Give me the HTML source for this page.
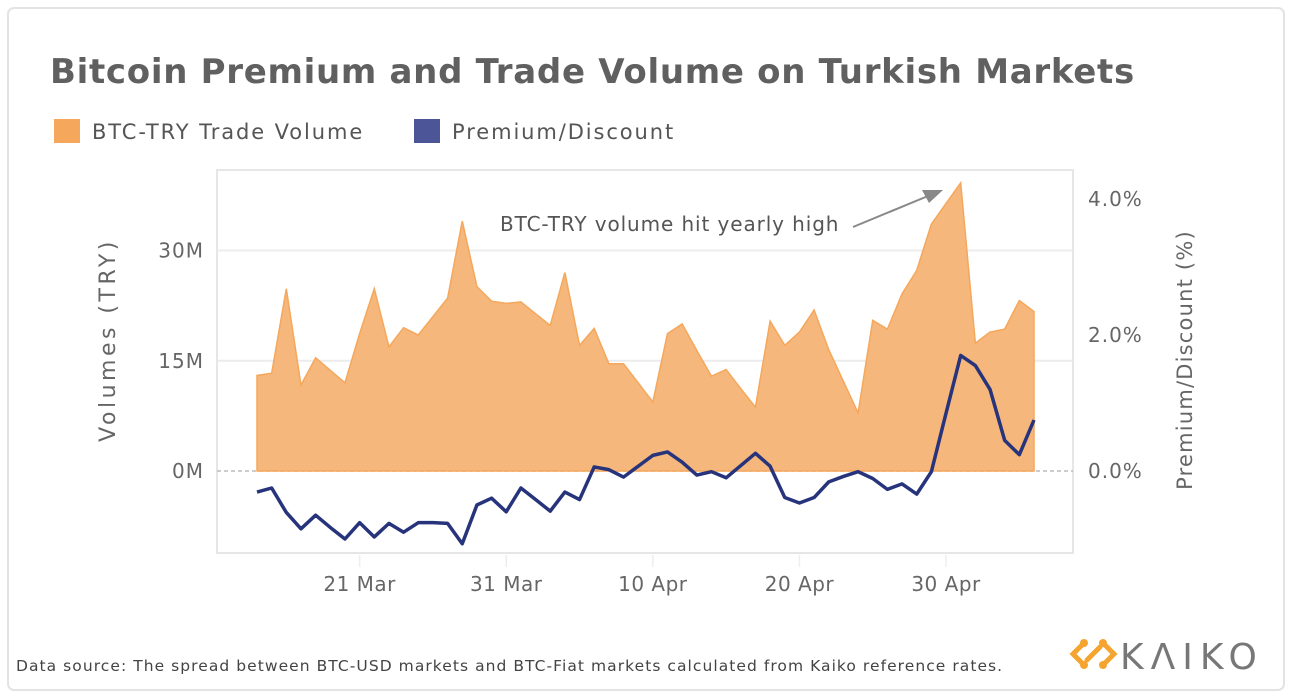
<!DOCTYPE html>
<html><head><meta charset="utf-8"><style>
body{margin:0;background:#fff;font-family:"Liberation Sans","DejaVu Sans",sans-serif;}
#wrap{position:relative;width:1292px;height:696px;overflow:hidden;}
svg text{font-family:"DejaVu Sans","Liberation Sans",sans-serif;}
</style></head><body>
<div id="wrap">
<svg id="chart" width="1292" height="696" xmlns="http://www.w3.org/2000/svg">
<rect x="8" y="8" width="1276" height="682" rx="6" fill="#fff" stroke="#e3e3e3" stroke-width="2"/>
<text x="50" y="83" font-size="34" font-weight="bold" fill="#606060" letter-spacing="0.7">Bitcoin Premium and Trade Volume on Turkish Markets</text>
<g>
<rect x="54" y="119" width="26" height="24" fill="#f5a75c"/>
<text x="92" y="139" font-size="21" fill="#555" letter-spacing="1.9">BTC-TRY Trade Volume</text>
<rect x="414" y="119" width="26" height="24" fill="#4b5597"/>
<text x="452" y="139" font-size="21" fill="#555" letter-spacing="1.9">Premium/Discount</text>
</g>
<g id="grid"></g>
<g id="marks"></g>
<g id="axes"></g>
<text x="500" y="231" font-size="20" fill="#555" letter-spacing="0.9">BTC-TRY volume hit yearly high</text>
<line x1="853" y1="227" x2="928" y2="196" stroke="#888" stroke-width="2"/>
<polygon points="943,190 922,190 929,203" fill="#888"/>
<text transform="translate(115,340) rotate(-90)" text-anchor="middle" font-size="22" fill="#666" letter-spacing="3.5">Volumes (TRY)</text>
<text transform="translate(1192,360) rotate(-90)" text-anchor="middle" font-size="21" fill="#666" letter-spacing="1.2">Premium/Discount (%)</text>
<text x="16" y="671" font-size="15.5" fill="#444" letter-spacing="1.05">Data source: The spread between BTC-USD markets and BTC-Fiat markets calculated from Kaiko reference rates.</text>
<g>
<g fill="none" stroke="#f5a430" stroke-width="5" stroke-linecap="round">
<path d="M1084,643 L1073,654 L1084,665"/>
<path d="M1087,660 L1100,647"/>
<path d="M1103,643 L1114,654 L1103,665"/>
</g>
<g fill="#f5a430"><circle cx="1084" cy="643" r="4"/><circle cx="1084" cy="665" r="4"/><circle cx="1103" cy="643" r="4"/><circle cx="1103" cy="665" r="4"/></g>
<text x="1120" y="669" font-size="36" fill="#777" font-family="Liberation Sans" letter-spacing="7">KΛIKO</text>
</g>
</svg>
</div>
<script>
const volumes = [13.0,13.3,24.8,11.7,15.4,13.7,12.0,18.7,24.8,16.9,19.5,18.5,21.0,23.5,34.0,25.1,23.1,22.8,23.0,21.4,19.8,27.0,17.1,19.4,14.6,14.6,12.0,9.4,18.7,20.0,16.4,12.9,13.8,11.2,8.7,20.4,17.1,18.9,21.9,16.5,12.2,7.9,20.5,19.3,24.1,27.3,33.6,36.4,39.2,17.4,18.9,19.3,23.2,21.7];
const premium = [-0.31,-0.25,-0.61,-0.85,-0.65,-0.83,-1.0,-0.76,-0.97,-0.77,-0.90,-0.76,-0.76,-0.77,-1.07,-0.50,-0.40,-0.60,-0.25,-0.42,-0.59,-0.31,-0.42,0.06,0.02,-0.09,0.07,0.23,0.28,0.13,-0.06,-0.01,-0.10,0.08,0.26,0.07,-0.39,-0.47,-0.39,-0.16,-0.08,-0.01,-0.11,-0.27,-0.19,-0.34,-0.01,0.85,1.70,1.55,1.20,0.45,0.24,0.75];
const xTickLabels = ["21 Mar","31 Mar","10 Apr","20 Apr","30 Apr"];
const xTickIndex = [7,17,27,37,47];
const leftTicks = [0,15,30];
const leftTickLabels = ["0M","15M","30M"];
const rightTicks = [0,2,4];
const rightTickLabels = ["0.0%","2.0%","4.0%"];

const NS="http://www.w3.org/2000/svg";
const X0=257, X1=1034, N=volumes.length;
const xs=i=>X0+i*(X1-X0)/(N-1);
const yL=v=>471-v*7.35;
const yR=v=>471-v*68;
function mk(tag,attrs,parent){const e=document.createElementNS(NS,tag);for(const k in attrs)e.setAttribute(k,attrs[k]);parent.appendChild(e);return e;}
const grid=document.getElementById('grid'),marks=document.getElementById('marks'),axes=document.getElementById('axes');

let r=mk('rect',{x:217,y:170,width:856,height:383,fill:'none',stroke:'#e6e6e6','stroke-width':2},grid);


leftTicks.forEach((t,i)=>{
  if(t!==0){const l=mk('line',{x1:217,x2:1073,y1:yL(t),y2:yL(t),stroke:'#ececec','stroke-width':2},grid);
  
  }
  const tx=mk('text',{x:204,y:yL(t)+7,'text-anchor':'end','font-size':20,fill:'#666','letter-spacing':1},axes);
  tx.textContent=leftTickLabels[i];
  
  
});
rightTicks.forEach((t,i)=>{
  const tx=mk('text',{x:1088,y:yR(t)+7,'font-size':20,fill:'#666','letter-spacing':1},axes);
  tx.textContent=rightTickLabels[i];
  
  
});
let z=mk('line',{x1:217,x2:1073,y1:yR(0),y2:yR(0),stroke:'#bbb','stroke-width':1.5,'stroke-dasharray':'4,3'},grid);


xTickIndex.forEach((idx,i)=>{
  const x=xs(idx);
  const l=mk('line',{x1:x,x2:x,y1:555,y2:567,stroke:'#eee','stroke-width':1.5},axes);
  
  
  const tx=mk('text',{x:x,y:591,'text-anchor':'middle','font-size':20,fill:'#666','letter-spacing':0.5},axes);
  tx.textContent=xTickLabels[i];
  
  
});
let d='M'+xs(0)+','+yL(0);
volumes.forEach((v,i)=>{d+=' L'+xs(i)+','+yL(v);});
d+=' L'+xs(N-1)+','+yL(0)+' Z';
const area=mk('path',{d:d,fill:'#f5b77b',stroke:'#f5a75c','stroke-width':1.5},marks);


const pts=premium.map((v,i)=>xs(i)+','+yR(v)).join(' ');
const line=mk('polyline',{points:pts,fill:'none',stroke:'#27347c','stroke-width':3.5,'stroke-linejoin':'round'},marks);


</script>
</body></html>
